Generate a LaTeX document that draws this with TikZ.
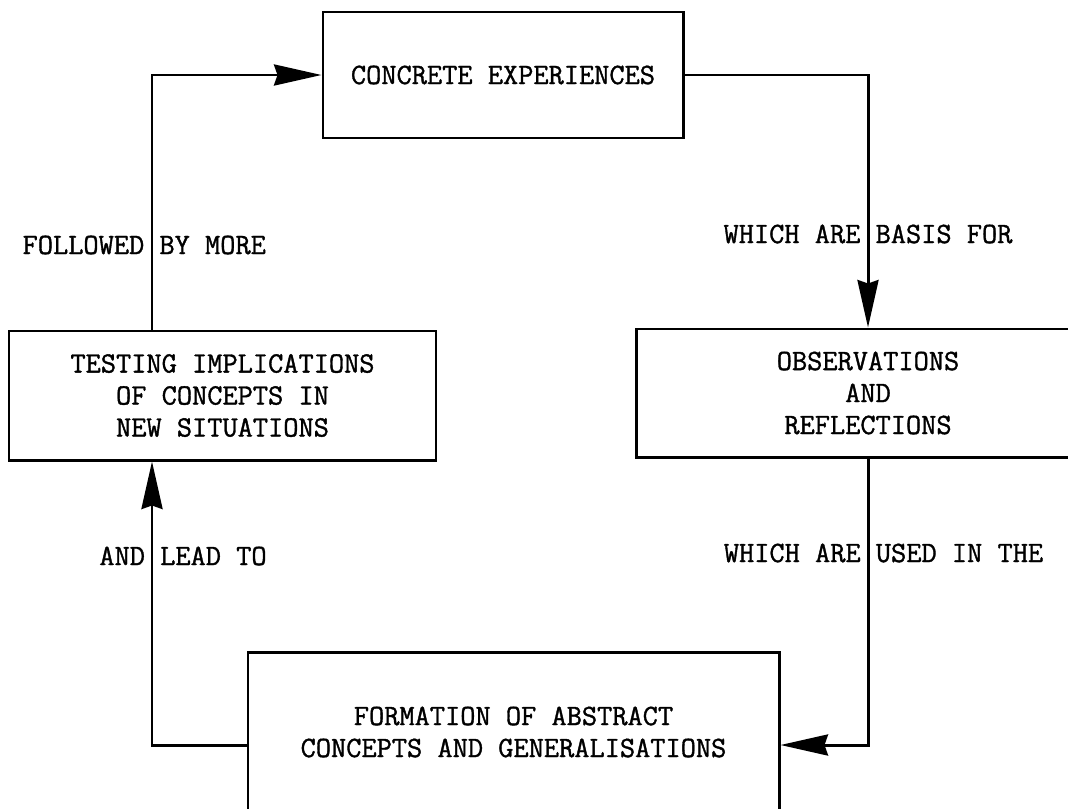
\documentclass[tikz,border=0pt]{standalone}
\usepackage{fontspec}
\newfontfamily\typewriter[FakeBold=1.2]{Latin Modern Mono}
\usetikzlibrary{arrows.meta,positioning,calc}

\begin{document}
\begin{tikzpicture}[
  stage/.style={draw, line width=1.7pt, align=center, font=\typewriter\fontsize{16.8}{18.2}\selectfont},
  flowlabel/.style={font=\typewriter\fontsize{16.8}{18.2}\selectfont, inner sep=0pt},
  flow/.style={line width=1.7pt, -{Stealth[length=0.95cm, width=0.42cm, inset=0.07cm]}}
]
  \path[use as bounding box, clip] (0,0) rectangle (21.36,-16.16);
  \node[stage, minimum width=7.2cm, minimum height=2.52cm] (concrete) at (10.06,-1.5) {CONCRETE EXPERIENCES};
  \node[stage, minimum width=9.28cm, minimum height=2.56cm] (observe) at (17.36,-7.86) {OBSERVATIONS\\AND\\REFLECTIONS};
  \node[stage, minimum width=10.62cm, minimum height=3.2cm] (abstract) at (10.27,-14.64) {FORMATION OF ABSTRACT\\CONCEPTS AND GENERALISATIONS};
  \node[stage, minimum width=8.54cm, minimum height=2.58cm] (testing) at (4.45,-7.91) {TESTING IMPLICATIONS\\OF CONCEPTS IN\\NEW SITUATIONS};
  \draw[flow] ([xshift=-1.41cm]testing.north) |- (concrete.west);
  \draw[flow] (concrete.east) -| (observe.north);
  \draw[flow] (observe.south) |- ([yshift=-0.26cm]abstract.east);
  \draw[flow] ([yshift=-0.26cm]abstract.west) -| ([xshift=-1.41cm]testing.south);
  \node[flowlabel] (more) at (2.885,-4.9) {FOLLOWED BY MORE};
  \node[flowlabel] (basis) at (17.36,-4.68) {WHICH ARE BASIS FOR};
  \node[flowlabel] (leadto) at (3.66,-11.12) {AND LEAD TO};
  \node[flowlabel] (usedin) at (17.67,-11.06) {WHICH ARE USED IN THE};
\end{tikzpicture}
\end{document}
